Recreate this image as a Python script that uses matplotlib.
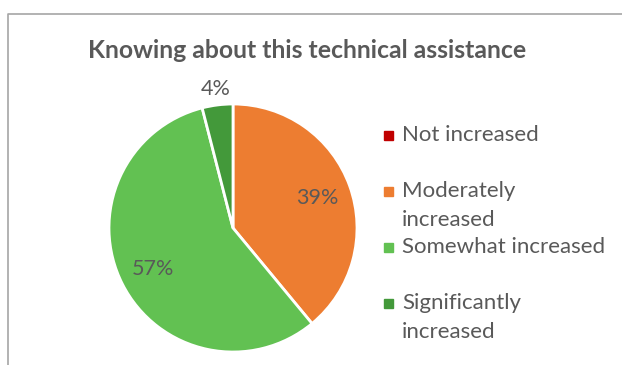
import numpy as np
import matplotlib.pyplot as plt
from matplotlib.patches import Rectangle

plt.rcParams['font.family'] = ['Lato', 'DejaVu Sans']

title = 'Knowing about this technical assistance'
labels = ['Not increased', 'Moderately\nincreased', 'Somewhat increased', 'Significantly\nincreased']
values = [0, 39, 57, 4]
colors = ['#C00000', '#ED7D31', '#62C152', '#43993A']
text_color = '#595959'

W, H = 622, 365
fig = plt.figure(figsize=(W / 100, H / 100), dpi=100)

# overlay in pixel coordinates for frame, title and legend
bg = fig.add_axes([0, 0, 1, 1])
bg.set_xlim(0, W)
bg.set_ylim(H, 0)
bg.axis('off')
bg.plot([7.5, 7.5, W], [H, 13.5, 13.5], color='#A6A6A6', lw=1.2)
bg.text(307, 50, title, ha='center', va='center', fontsize=17.8,
        fontweight='bold', color=text_color)

# pie
cx, cy, r = 233, 228, 124
ax = fig.add_axes([(cx - r) / W, (H - cy - r) / H, 2 * r / W, 2 * r / H])
wedges, texts, autotexts = ax.pie(
    values, colors=colors, startangle=90, counterclock=False,
    autopct=lambda p: f'{p:.0f}%' if p > 0 else '', pctdistance=0.72,
    wedgeprops=dict(edgecolor='white', linewidth=2),
    textprops=dict(fontsize=15.5, color=text_color))
ax.set_xlim(-1, 1)
ax.set_ylim(-1, 1)
ax.set_aspect('equal')

# the small slice gets its label outside the pie
for w, t, v in zip(wedges, autotexts, values):
    if 0 < v < 10:
        ang = np.deg2rad((w.theta1 + w.theta2) / 2)
        t.set_position((1.13 * np.cos(ang), 1.13 * np.sin(ang)))
        t.set_clip_on(False)

# legend, one entry every 56 px, wrapped lines 28.5 px apart
y0, dy, line = 135, 56, 28.5
for i, (lab, c) in enumerate(zip(labels, colors)):
    y = y0 + i * dy
    bg.add_patch(Rectangle((384, y - 4.5), 9, 9, color=c))
    for j, part in enumerate(lab.split('\n')):
        bg.text(402, y + j * line, part, ha='left', va='center',
                fontsize=16, color=text_color)

fig.savefig('out.png', dpi=100)
